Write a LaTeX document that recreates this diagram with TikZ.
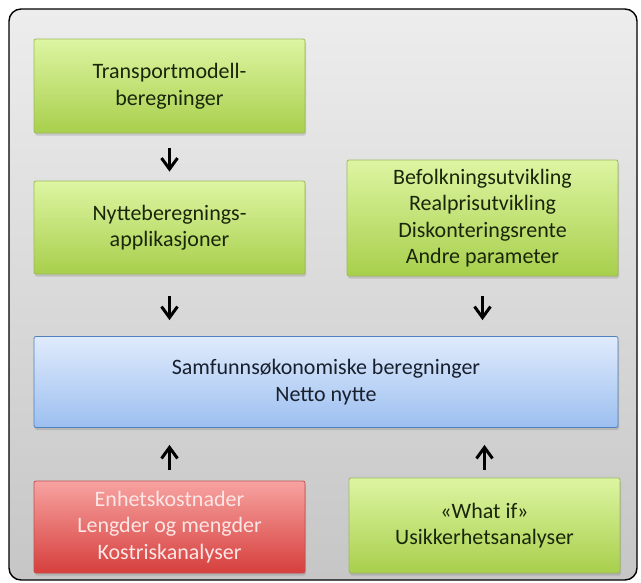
\documentclass[tikz,border=0pt]{standalone}
\usepackage{fontspec}
\setmainfont{Carlito}
\usetikzlibrary{arrows.meta,shadows}
\definecolor{greenTop}{HTML}{DDF5A2}
\definecolor{greenBot}{HTML}{A8CF4C}
\definecolor{greenLine}{HTML}{9BBB59}
\definecolor{greenText}{HTML}{1A260A}
\definecolor{blueTop}{HTML}{E0EBFC}
\definecolor{blueBot}{HTML}{9CBFF0}
\definecolor{blueLine}{HTML}{4F81BD}
\definecolor{blueText}{HTML}{18202E}
\definecolor{redTop}{HTML}{F7A3A1}
\definecolor{redBot}{HTML}{D63F3C}
\definecolor{redLine}{HTML}{C0504D}
\definecolor{redText}{HTML}{FDE6E6}
\definecolor{panelTop}{HTML}{EDEDED}
\definecolor{panelBot}{HTML}{C6C6C6}
\tikzset{
  box/.style={rounded corners=2pt, line width=0.8pt, align=center,
    font=\fontsize{22}{26.5}\selectfont, inner sep=0pt,
    minimum width=271pt,
    drop shadow={shadow xshift=1pt, shadow yshift=-2.5pt, opacity=0.3}},
  greenbox/.style={box, draw=greenLine, top color=greenTop, bottom color=greenBot, text=greenText},
  bluebox/.style={box, draw=blueLine, top color=blueTop, bottom color=blueBot, text=blueText},
  redbox/.style={box, draw=redLine, top color=redTop, bottom color=redBot, text=redText},
  arr/.style={line width=3pt, -{Straight Barb[length=11pt,width=16pt,line width=3pt]}}
}
\begin{document}
\begin{tikzpicture}[x=1pt,y=-1pt]
\useasboundingbox (0,0) rectangle (641,582);
% panel
\draw[line width=1.4pt, rounded corners=12pt, top color=panelTop, bottom color=panelBot]
  (9,9) rectangle (637,580);
% boxes
\node[greenbox, minimum height=94pt] (trans) at (169.5,86) {Transportmodell-\\beregninger};
\node[greenbox, minimum height=93pt] (nytte) at (169.5,227.5) {Nytteberegnings-\\applikasjoner};
\node[greenbox, minimum height=116pt] (param) at (482.5,218) {Befolkningsutvikling\\Realprisutvikling\\Diskonteringsrente\\Andre parameter};
\node[bluebox, minimum width=584pt, minimum height=91pt] (samf) at (326,382) {Samfunnsøkonomiske beregninger\\Netto nytte};
\node[redbox, minimum height=92pt] (kost) at (169.5,527) {Enhetskostnader\\Lengder og mengder\\Kostriskanalyser};
\node[greenbox, minimum height=95pt] (whatif) at (484.5,525.5) {«What if»\\Usikkerhetsanalyser};
% arrows
\draw[arr, shorten <=15pt, shorten >=9pt] (trans.south) -- (nytte.north);
\draw[arr, shorten <=22pt, shorten >=16pt] (nytte.south) -- (nytte.south |- samf.north);
\draw[arr, shorten <=20pt, shorten >=16pt] (param.south) -- (param.south |- samf.north);
\draw[arr, shorten <=11pt, shorten >=17pt] (kost.north) -- (kost.north |- samf.south);
\draw[arr, shorten <=8pt, shorten >=17pt] (whatif.north) -- (whatif.north |- samf.south);
\end{tikzpicture}
\end{document}
